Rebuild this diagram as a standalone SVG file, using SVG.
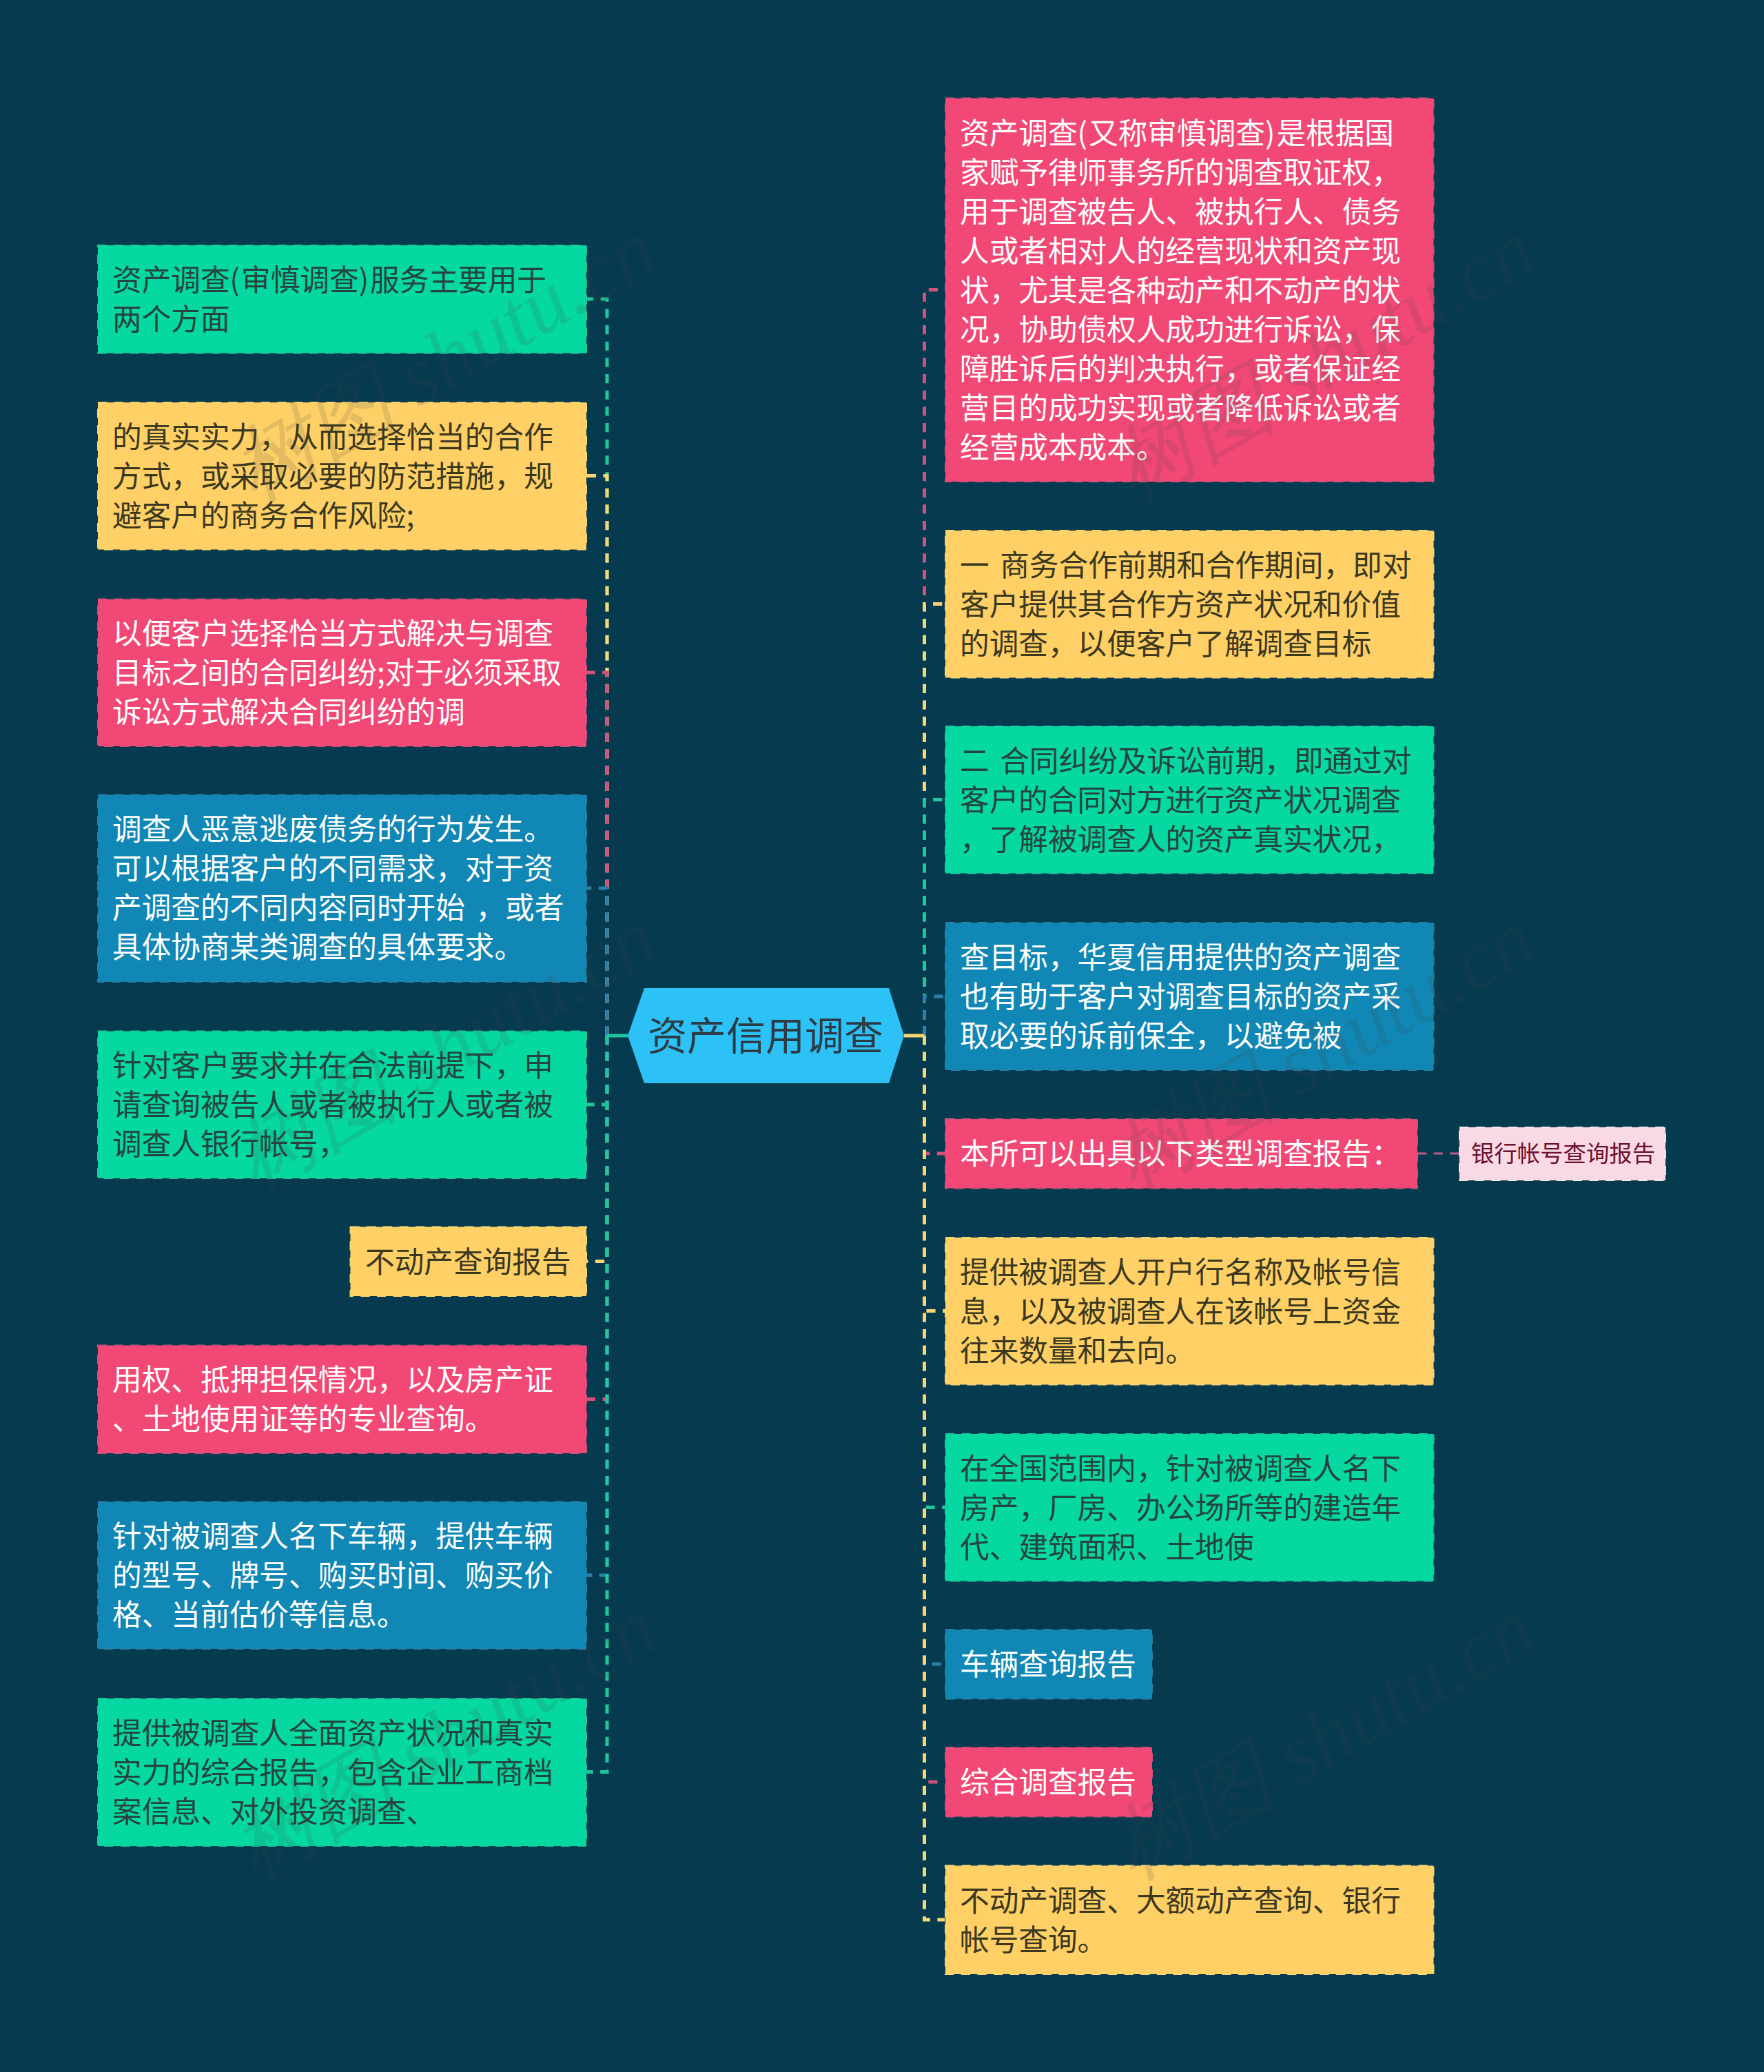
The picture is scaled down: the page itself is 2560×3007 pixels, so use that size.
<svg xmlns="http://www.w3.org/2000/svg" width="2560" height="3007" viewBox="0 0 2560 3007">
<style>
text{font-family:"Noto Sans CJK SC","Noto Sans",sans-serif;font-size:42.67px;word-spacing:6px}
.n{stroke-width:2;stroke-dasharray:13.2 10.47}
.g{fill:#05d8a0;stroke:#1cc89c}.y{fill:#fed065;stroke:#f8d673}.p{fill:#f24875;stroke:#d4507c}.b{fill:#1087b4;stroke:#2a80a8}
.tg{fill:#25433f}.ty{fill:#3b3820}.tw{fill:#fff}
.c{fill:none;stroke-width:5;stroke-dasharray:13.2 10.47}
.cg{stroke:#1cc89c}.cy{stroke:#f8d673}.cp{stroke:#d4507c}.cb{stroke:#2a80a8}
.hub{fill:none;stroke-width:5}
.wm{font-family:"Liberation Serif",serif;font-style:italic;font-size:122px;fill:#444;opacity:.14;word-spacing:0}
</style>
<rect width="2560" height="3007" fill="#063a4f"/>
<g id="connectors">
<path class="c cg" d="M881 1503V434H851"/>
<path class="c cy" d="M881 1503V690.5H851"/>
<path class="c cp" d="M881 1503V976H851"/>
<path class="c cb" d="M881 1503V1289H851"/>
<path class="c cg" d="M881 1503V1603H851"/>
<path class="c cy" d="M881 1503V1830.5H851"/>
<path class="c cp" d="M881 1503V2030.5H851"/>
<path class="c cb" d="M881 1503V2286H851"/>
<path class="c cg" d="M881 1503V2571.5H851"/>
<path class="hub cg" d="M911 1503H881"/>
<path class="c cp" d="M1341.5 1503V420.5H1371"/>
<path class="c cy" d="M1341.5 1503V876.5H1371"/>
<path class="c cg" d="M1341.5 1503V1160.5H1371"/>
<path class="c cb" d="M1341.5 1503V1446H1371"/>
<path class="c cp" d="M1341.5 1503V1674H1371"/>
<path class="c cy" d="M1341.5 1503V1902.5H1371"/>
<path class="c cg" d="M1341.5 1503V2187.5H1371"/>
<path class="c cb" d="M1341.5 1503V2415H1371"/>
<path class="c cp" d="M1341.5 1503V2586H1371"/>
<path class="c cy" d="M1341.5 1503V2786H1371"/>
<path class="hub cy" d="M1312 1503H1341.5"/>
<path class="c" stroke="#c25a85" style="stroke-width:3" d="M2057 1674H2118"/>
</g>
<g id="root"><polygon points="911,1503 935,1434 1290,1434 1312,1503 1290,1572 935,1572" fill="#2dc2f7"/><text x="940" y="1524" style="font-size:57px" fill="#2d3b44">资产信用调查</text></g>
<g id="l1"><rect class="n g" x="142" y="356" width="709" height="156.5"/><text class="tg" x="163" y="422">资产调查(<tspan dx="2">审慎调查)</tspan><tspan dx="2">服务主要用于</tspan></text><text class="tg" x="163" y="479">两个方面</text></g>
<g id="l2"><rect class="n y" x="142" y="584" width="709" height="213.5"/><text class="ty" x="163" y="649.5">的真实实力，从而选择恰当的合作</text><text class="ty" x="163" y="706.5">方式，或采取必要的防范措施，规</text><text class="ty" x="163" y="763.5">避客户的商务合作风险;</text></g>
<g id="l3"><rect class="n p" x="142" y="869.5" width="709" height="213.5"/><text class="tw" x="163" y="935">以便客户选择恰当方式解决与调查</text><text class="tw" x="163" y="992">目标之间的合同纠纷;对于必须采取</text><text class="tw" x="163" y="1049">诉讼方式解决合同纠纷的调</text></g>
<g id="l4"><rect class="n b" x="142" y="1153.5" width="709" height="271.5"/><text class="tw" x="163" y="1219">调查人恶意逃废债务的行为发生。</text><text class="tw" x="163" y="1276">可以根据客户的不同需求，对于资</text><text class="tw" x="163" y="1333">产调查的不同内容同时开始 ，或者</text><text class="tw" x="163" y="1390">具体协商某类调查的具体要求。</text></g>
<g id="l5"><rect class="n g" x="142" y="1496.5" width="709" height="213.5"/><text class="tg" x="163" y="1562">针对客户要求并在合法前提下，申</text><text class="tg" x="163" y="1619">请查询被告人或者被执行人或者被</text><text class="tg" x="163" y="1676">调查人银行帐号，</text></g>
<g id="l6"><rect class="n y" x="508.5" y="1780.5" width="342.5" height="100.5"/><text class="ty" x="530" y="1846.5">不动产查询报告</text></g>
<g id="l7"><rect class="n p" x="142" y="1952.5" width="709" height="156.5"/><text class="tw" x="163" y="2018">用权、抵押担保情况，以及房产证</text><text class="tw" x="163" y="2075">、土地使用证等的专业查询。</text></g>
<g id="l8"><rect class="n b" x="142" y="2179.5" width="709" height="213.5"/><text class="tw" x="163" y="2245">针对被调查人名下车辆，提供车辆</text><text class="tw" x="163" y="2302">的型号、牌号、购买时间、购买价</text><text class="tw" x="163" y="2359">格、当前估价等信息。</text></g>
<g id="l9"><rect class="n g" x="142" y="2465" width="709" height="214"/><text class="tg" x="163" y="2530.5">提供被调查人全面资产状况和真实</text><text class="tg" x="163" y="2587.5">实力的综合报告，包含企业工商档</text><text class="tg" x="163" y="2644.5">案信息、对外投资调查、</text></g>
<g id="r1"><rect class="n p" x="1372" y="142.5" width="708.5" height="556.5"/><text class="tw" x="1393" y="208.5">资产调查(<tspan dx="2">又称审慎调查)</tspan><tspan dx="2">是根据国</tspan></text><text class="tw" x="1393" y="265.5">家赋予律师事务所的调查取证权，</text><text class="tw" x="1393" y="322.5">用于调查被告人、被执行人、债务</text><text class="tw" x="1393" y="379.5">人或者相对人的经营现状和资产现</text><text class="tw" x="1393" y="436.5">状，尤其是各种动产和不动产的状</text><text class="tw" x="1393" y="493.5">况，协助债权人成功进行诉讼，保</text><text class="tw" x="1393" y="550.5">障胜诉后的判决执行，或者保证经</text><text class="tw" x="1393" y="607.5">营目的成功实现或者降低诉讼或者</text><text class="tw" x="1393" y="664.5">经营成本成本。</text></g>
<g id="r2"><rect class="n y" x="1372" y="770" width="708.5" height="213.5"/><text class="ty" x="1393" y="835.5">一 商务合作前期和合作期间，即对</text><text class="ty" x="1393" y="892.5">客户提供其合作方资产状况和价值</text><text class="ty" x="1393" y="949.5">的调查，以便客户了解调查目标</text></g>
<g id="r3"><rect class="n g" x="1372" y="1054" width="708.5" height="213.5"/><text class="tg" x="1393" y="1119.5">二 合同纠纷及诉讼前期，即通过对</text><text class="tg" x="1393" y="1176.5">客户的合同对方进行资产状况调查</text><text class="tg" x="1393" y="1233.5">，了解被调查人的资产真实状况，</text></g>
<g id="r4"><rect class="n b" x="1372" y="1339" width="708.5" height="214"/><text class="tw" x="1393" y="1405">查目标，华夏信用提供的资产调查</text><text class="tw" x="1393" y="1462">也有助于客户对调查目标的资产采</text><text class="tw" x="1393" y="1519">取必要的诉前保全，以避免被</text></g>
<g id="r5"><rect class="n p" x="1372" y="1624" width="685" height="100.5"/><text class="tw" x="1393" y="1690">本所可以出具以下类型调查报告：</text></g>
<g id="r5a"><rect class="n" x="2118" y="1636" width="299" height="77" fill="#f9d9e3" stroke="#f3e4ea"/><text x="2135" y="1686" fill="#6d0f30" style="font-size:33.4px">银行帐号查询报告</text></g>
<g id="r6"><rect class="n y" x="1372" y="1796" width="708.5" height="213.5"/><text class="ty" x="1393" y="1861.5">提供被调查人开户行名称及帐号信</text><text class="ty" x="1393" y="1918.5">息，以及被调查人在该帐号上资金</text><text class="ty" x="1393" y="1975.5">往来数量和去向。</text></g>
<g id="r7"><rect class="n g" x="1372" y="2081" width="708.5" height="213.5"/><text class="tg" x="1393" y="2146.5">在全国范围内，针对被调查人名下</text><text class="tg" x="1393" y="2203.5">房产，厂房、办公场所等的建造年</text><text class="tg" x="1393" y="2260.5">代、建筑面积、土地使</text></g>
<g id="r8"><rect class="n b" x="1372" y="2365" width="300" height="100.5"/><text class="tw" x="1393" y="2431">车辆查询报告</text></g>
<g id="r9"><rect class="n p" x="1372" y="2536" width="300" height="100.5"/><text class="tw" x="1393" y="2602">综合调查报告</text></g>
<g id="r10"><rect class="n y" x="1372" y="2707.5" width="708.5" height="157.5"/><text class="ty" x="1393" y="2773.5">不动产调查、大额动产查询、银行</text><text class="ty" x="1393" y="2830.5">帐号查询。</text></g>
<g id="watermarks">
<text class="wm" x="665" y="558" text-anchor="middle" transform="rotate(-30 665 558)">树图 shutu.cn</text>
<text class="wm" x="1940" y="558" text-anchor="middle" transform="rotate(-30 1940 558)">树图 shutu.cn</text>
<text class="wm" x="665" y="1558" text-anchor="middle" transform="rotate(-30 665 1558)">树图 shutu.cn</text>
<text class="wm" x="1940" y="1558" text-anchor="middle" transform="rotate(-30 1940 1558)">树图 shutu.cn</text>
<text class="wm" x="665" y="2558" text-anchor="middle" transform="rotate(-30 665 2558)">树图 shutu.cn</text>
<text class="wm" x="1940" y="2558" text-anchor="middle" transform="rotate(-30 1940 2558)">树图 shutu.cn</text>
</g>
</svg>
